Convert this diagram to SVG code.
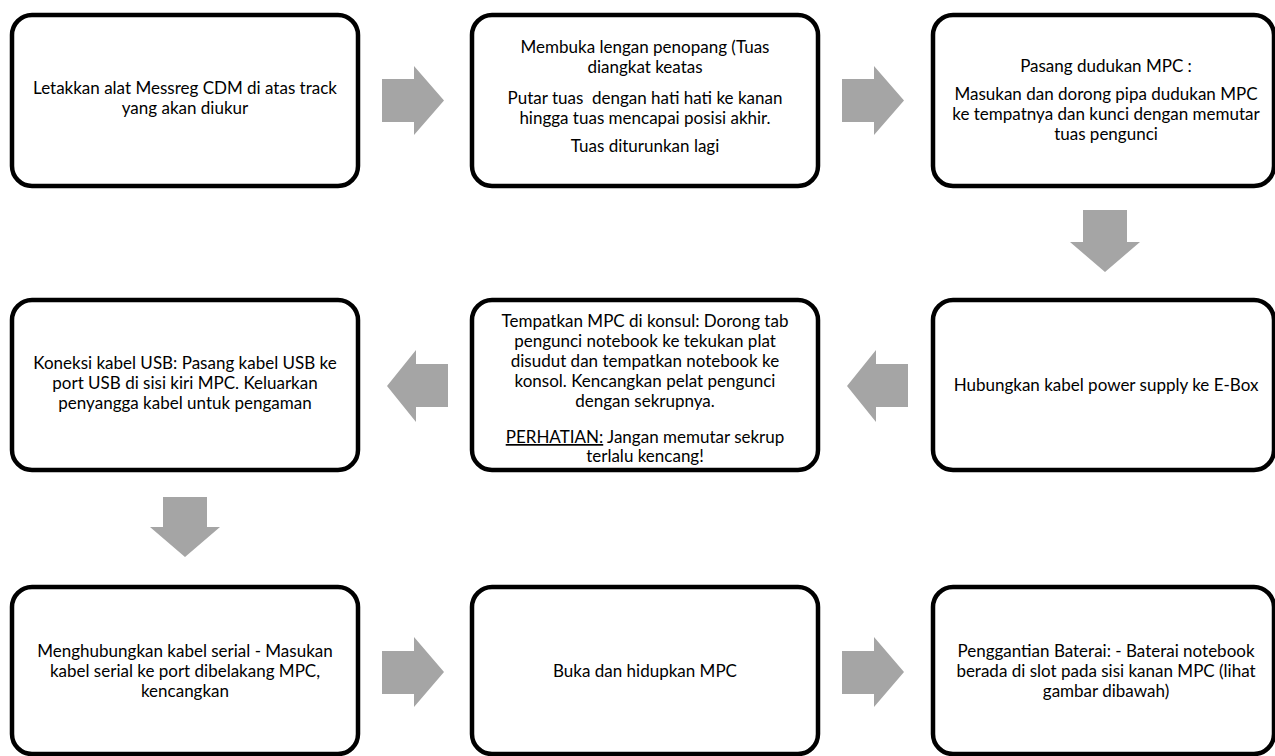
<svg xmlns="http://www.w3.org/2000/svg" width="1275" height="756" viewBox="0 0 1275 756">
<style>
.box{fill:#fff;stroke:#000;stroke-width:4.5}
.arr{fill:#a5a5a5}
text{font-family:Lato,"Open Sans","Liberation Sans",sans-serif;font-size:17px;fill:#000;text-anchor:middle}
</style>
<rect width="1275" height="756" fill="#fff"/>
<g id="connectors">
<polygon class="arr" points="382,79 414,79 414,66 444,100.5 414,135 414,122 382,122"/>
<polygon class="arr" points="842,79 874,79 874,66 904,100.5 874,135 874,122 842,122"/>
<polygon class="arr" points="1083,210 1127,210 1127,242 1140,242 1105,272 1070,242 1083,242"/>
<polygon class="arr" points="847,386 876,350 876,364 908,364 908,407 876,407 876,422"/>
<polygon class="arr" points="387,386 416,350 416,364 448,364 448,407 416,407 416,422"/>
<polygon class="arr" points="163,497 207,497 207,527 220,527 185,557 150,527 163,527"/>
<polygon class="arr" points="382,651 414,651 414,637 444,672 414,707 414,694 382,694"/>
<polygon class="arr" points="842,651 874,651 874,637 904,672 874,707 874,694 842,694"/>
</g>
<g id="n1"><rect class="box" x="12" y="15" width="346" height="171" rx="20"/>
<text x="185" y="94">Letakkan alat Messreg CDM di atas track</text>
<text x="185" y="114">yang akan diukur</text></g>
<g id="n2"><rect class="box" x="472" y="15" width="346" height="171" rx="20"/>
<text x="645" y="53">Membuka lengan penopang (Tuas</text>
<text x="645" y="73">diangkat keatas</text>
<text x="645" y="104" xml:space="preserve">Putar tuas  dengan hati hati ke kanan</text>
<text x="645" y="124">hingga tuas mencapai posisi akhir.</text>
<text x="645" y="152">Tuas diturunkan lagi</text></g>
<g id="n3"><rect class="box" x="933" y="15" width="341" height="171" rx="20"/>
<text x="1106" y="72">Pasang dudukan MPC :</text>
<text x="1106" y="100">Masukan dan dorong pipa dudukan MPC</text>
<text x="1106" y="120">ke tempatnya dan kunci dengan memutar</text>
<text x="1106" y="140">tuas pengunci</text></g>
<g id="n4"><rect class="box" x="12" y="300" width="346" height="170" rx="20"/>
<text x="185" y="369">Koneksi kabel USB: Pasang kabel USB ke</text>
<text x="185" y="389">port USB di sisi kiri MPC. Keluarkan</text>
<text x="185" y="409">penyangga kabel untuk pengaman</text></g>
<g id="n5"><rect class="box" x="472" y="300" width="346" height="170" rx="20"/>
<text x="645" y="327">Tempatkan MPC di konsul: Dorong tab</text>
<text x="645" y="347">pengunci notebook ke tekukan plat</text>
<text x="645" y="367">disudut dan tempatkan notebook ke</text>
<text x="645" y="387">konsol. Kencangkan pelat pengunci</text>
<text x="645" y="407">dengan sekrupnya.</text>
<text x="645" y="443"><tspan text-decoration="underline">PERHATIAN:</tspan> Jangan memutar sekrup</text>
<text x="645" y="462">terlalu kencang!</text></g>
<g id="n6"><rect class="box" x="933" y="300" width="341" height="170" rx="20"/>
<text x="1106" y="391">Hubungkan kabel power supply ke E-Box</text></g>
<g id="n7"><rect class="box" x="12" y="587" width="346" height="167" rx="20"/>
<text x="185" y="657">Menghubungkan kabel serial - Masukan</text>
<text x="185" y="677">kabel serial ke port dibelakang MPC,</text>
<text x="185" y="697">kencangkan</text></g>
<g id="n8"><rect class="box" x="472" y="587" width="346" height="167" rx="20"/>
<text x="645" y="677">Buka dan hidupkan MPC</text></g>
<g id="n9"><rect class="box" x="933" y="587" width="341" height="167" rx="20"/>
<text x="1106" y="657">Penggantian Baterai: - Baterai notebook</text>
<text x="1106" y="677">berada di slot pada sisi kanan MPC (lihat</text>
<text x="1106" y="697">gambar dibawah)</text></g>
</svg>
